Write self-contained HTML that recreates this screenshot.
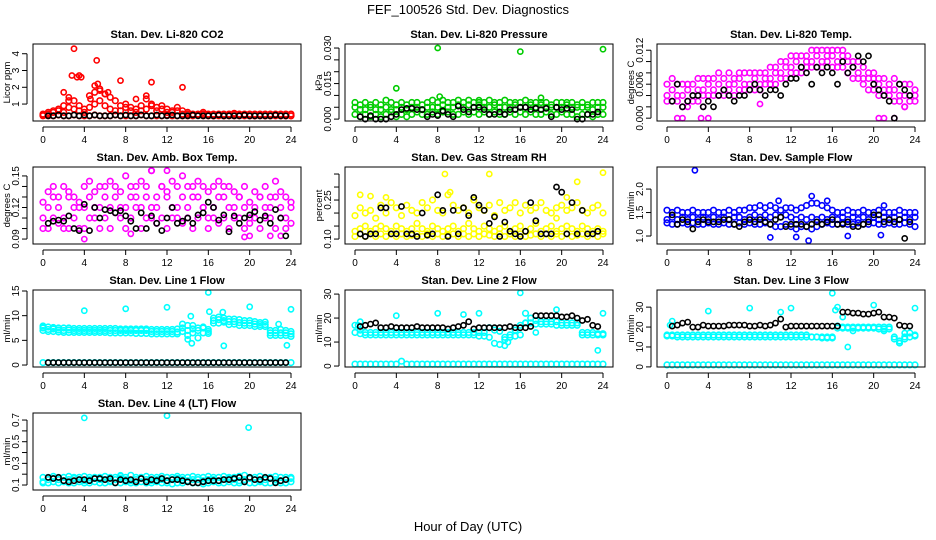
<!DOCTYPE html>
<html><head><meta charset="utf-8">
<style>
html,body{margin:0;padding:0;background:#fff;}
svg{display:block;font-family:"Liberation Sans",sans-serif;}
</style></head>
<body>
<svg id="chart" width="936" height="540" viewBox="0 0 936 540">
<text x="468" y="14" font-size="13" text-anchor="middle">FEF_100526  Std. Dev. Diagnostics</text>
<text x="468" y="531" font-size="13" text-anchor="middle">Hour of Day (UTC)</text>
</svg>
<script>
const H = [0,0.5,1,1.5,2,2.5,3,3.5,4,4.5,5,5.5,6,6.5,7,7.5,8,8.5,9,9.5,10,10.5,11,11.5,12,12.5,13,13.5,14,14.5,15,15.5,16,16.5,17,17.5,18,18.5,19,19.5,20,20.5,21,21.5,22,22.5,23,23.5,24];
const HB = [0.5,1,1.5,2,2.5,3,3.5,4,4.5,5,5.5,6,6.5,7,7.5,8,8.5,9,9.5,10,10.5,11,11.5,12,12.5,13,13.5,14,14.5,15,15.5,16,16.5,17,17.5,18,18.5,19,19.5,20,20.5,21,21.5,22,22.5,23,23.5];
const XTICKS = [0,4,8,12,16,20,24];

// P1 CO2
const co2A = [0.35,0.3,0.3,0.35,0.3,0.3,0.35,0.3,0.3,0.3,0.35,0.3,0.3,0.3,0.35,0.3,0.3,0.3,0.3,0.35,0.3,0.3,0.3,0.3,0.35,0.3,0.3,0.3,0.3,0.3,0.35,0.3,0.3,0.3,0.3,0.3,0.3,0.3,0.35,0.3,0.3,0.3,0.3,0.3,0.3,0.3,0.3,0.3,0.3];
const co2B = [0.4,0.5,0.6,0.7,0.9,0.8,1.2,0.9,0.7,1.5,1.7,1.9,1.6,1.4,1.2,0.9,1.0,0.8,0.7,0.9,1.3,1.0,0.8,0.9,0.7,0.6,0.8,0.6,0.5,0.4,0.4,0.5,0.4,0.4,0.4,0.4,0.4,0.45,0.4,0.4,0.4,0.4,0.4,0.4,0.4,0.4,0.4,0.4,0.4];
const co2C = [0.3,0.4,0.5,0.6,0.5,1.2,0.7,0.6,0.5,0.8,1.0,1.2,0.9,0.7,0.6,0.6,0.8,0.6,0.5,0.6,0.7,0.9,0.6,0.7,0.5,0.5,0.6,0.4,0.4,0.35,0.35,0.4,0.35,0.3,0.35,0.3,0.35,0.4,0.3,0.35,0.3,0.3,0.35,0.3,0.3,0.35,0.3,0.3,0.3];
const co2OutX = [2,2.5,2.8,3,3.3,3.5,3.7,5,5.2,5.3,5.5,6,7.5,9,10,10.5,13.5,6.3,4.6];
const co2OutY = [1.7,1.4,2.7,4.3,2.6,2.7,2.6,2.1,3.6,2.2,1.8,1.6,2.4,1.3,1.5,2.3,2.0,1.7,1.3];
const co2Blk = [0.3,0.3,0.35,0.3,0.3,0.35,0.3,0.35,0.3,0.35,0.3,0.3,0.3,0.35,0.3,0.35,0.3,0.3,0.35,0.3,0.3,0.35,0.3,0.3,0.35,0.3,0.3,0.3,0.35,0.3,0.3,0.3,0.3,0.35,0.3,0.3,0.3,0.3,0.35,0.3,0.3,0.3,0.3,0.3,0.35,0.3,0.3];

// P2 Pressure
const prA = [0.002,0.001,0.002,0.001,0.002,0.001,0.002,0.003,0.001,0.002,0.001,0.002,0.003,0.002,0.002,0.003,0.002,0.003,0.003,0.002,0.002,0.003,0.002,0.003,0.002,0.003,0.002,0.003,0.002,0.002,0.003,0.002,0.003,0.002,0.003,0.002,0.002,0.003,0.002,0.002,0.003,0.002,0.002,0.001,0.002,0.002,0.001,0.002,0.002];
const prB = [0.005,0.004,0.004,0.005,0.004,0.004,0.005,0.004,0.004,0.005,0.004,0.005,0.005,0.004,0.005,0.005,0.005,0.006,0.005,0.005,0.006,0.005,0.006,0.005,0.006,0.005,0.005,0.006,0.005,0.005,0.005,0.006,0.005,0.005,0.006,0.005,0.006,0.005,0.005,0.005,0.005,0.006,0.005,0.005,0.005,0.005,0.004,0.005,0.005];
const prC = [0.007,0.006,0.007,0.006,0.007,0.006,0.008,0.007,0.006,0.007,0.006,0.007,0.007,0.006,0.007,0.008,0.007,0.008,0.007,0.007,0.008,0.007,0.008,0.007,0.007,0.007,0.008,0.007,0.007,0.008,0.007,0.007,0.007,0.008,0.007,0.007,0.007,0.007,0.006,0.007,0.007,0.007,0.007,0.006,0.007,0.006,0.007,0.007,0.007];
const prOutX = [4,8,8.2,16,24,12,18];
const prOutY = [0.013,0.030,0.0095,0.0285,0.0295,0.008,0.009];
const prBlk = [0.001,0.0,0.0015,0.0,0.0,0.0,0.001,0.002,0.004,0.0045,0.0045,0.004,0.004,0.001,0.002,0.0015,0.0035,0.002,0.001,0.0055,0.004,0.003,0.005,0.005,0.004,0.002,0.002,0.003,0.002,0.004,0.004,0.005,0.005,0.004,0.0045,0.004,0.0045,0.001,0.005,0.004,0.0045,0.004,0.0,0.0,0.002,0.002,0.003];

// P3 Li-820 Temp
const ltA = [0.004,0.005,0.004,0.004,0.005,0.004,0.005,0.005,0.006,0.005,0.006,0.005,0.006,0.006,0.007,0.006,0.006,0.007,0.006,0.007,0.007,0.008,0.008,0.009,0.009,0.010,0.009,0.010,0.010,0.011,0.010,0.011,0.011,0.010,0.011,0.010,0.009,0.008,0.007,0.007,0.006,0.006,0.005,0.005,0.005,0.004,0.004,0.004,0.004];
const ltB = [0.006,0.007,0.006,0.006,0.006,0.006,0.007,0.007,0.007,0.007,0.008,0.007,0.008,0.007,0.008,0.008,0.008,0.008,0.008,0.008,0.009,0.009,0.010,0.010,0.011,0.011,0.011,0.011,0.012,0.012,0.012,0.012,0.012,0.012,0.012,0.011,0.010,0.010,0.009,0.008,0.008,0.007,0.007,0.006,0.007,0.006,0.006,0.006,0.005];
const ltC = [0.003,0.003,0.003,0.002,0.003,0.003,0.003,0.004,0.004,0.004,0.004,0.004,0.005,0.004,0.005,0.005,0.005,0.005,0.005,0.006,0.006,0.006,0.007,0.007,0.008,0.008,0.008,0.009,0.009,0.009,0.009,0.010,0.009,0.009,0.009,0.008,0.007,0.007,0.006,0.005,0.005,0.004,0.004,0.004,0.003,0.003,0.002,0.003,0.003];
const ltOutX = [1,1.5,3.3,4,20.5,21,22,2,3.5,9,20,23];
const ltOutY = [0,0,0,0,0,0,0,0.002,0.002,0.0025,0.007,0.002];
const ltBlk = [0.003,0.006,0.002,0.003,0.004,0.004,0.002,0.003,0.002,0.004,0.005,0.004,0.003,0.004,0.004,0.005,0.006,0.005,0.004,0.005,0.005,0.004,0.006,0.007,0.007,0.009,0.008,0.006,0.009,0.008,0.009,0.008,0.006,0.010,0.008,0.009,0.011,0.010,0.011,0.006,0.005,0.004,0.003,0.0,0.006,0.005,0.004];

// P4 Amb Box Temp
const abA = [0.11,0.12,0.13,0.12,0.11,0.13,0.12,0.10,0.12,0.13,0.11,0.12,0.14,0.12,0.13,0.11,0.12,0.13,0.14,0.12,0.13,0.11,0.12,0.14,0.13,0.12,0.11,0.13,0.12,0.14,0.13,0.12,0.11,0.12,0.13,0.14,0.12,0.11,0.13,0.12,0.11,0.12,0.13,0.12,0.11,0.13,0.12,0.11,0.12];
const abB = [0.10,0.10,0.11,0.105,0.10,0.10,0.11,0.12,0.10,0.11,0.12,0.10,0.11,0.10,0.115,0.12,0.10,0.11,0.12,0.10,0.11,0.12,0.105,0.11,0.10,0.11,0.12,0.105,0.11,0.10,0.11,0.12,0.10,0.11,0.105,0.11,0.10,0.12,0.11,0.10,0.105,0.11,0.10,0.11,0.12,0.10,0.11,0.10,0.105];
const abC = [0.125,0.135,0.14,0.13,0.14,0.135,0.13,0.125,0.14,0.145,0.135,0.14,0.13,0.145,0.14,0.135,0.15,0.14,0.13,0.145,0.14,0.155,0.13,0.14,0.135,0.145,0.14,0.15,0.14,0.13,0.145,0.14,0.135,0.14,0.145,0.13,0.14,0.135,0.13,0.14,0.125,0.135,0.13,0.14,0.13,0.145,0.135,0.13,0.125];
const abOutX = [4,8.5,10.5,12,19.5,20,22,23];
const abOutY = [0.09,0.095,0.155,0.155,0.092,0.093,0.093,0.093];
const abBlk = [0.105,0.107,0.108,0.107,0.112,0.10,0.098,0.123,0.098,0.12,0.11,0.118,0.117,0.115,0.117,0.112,0.107,0.10,0.115,0.1,0.112,0.105,0.098,0.11,0.12,0.105,0.107,0.11,0.105,0.113,0.115,0.125,0.12,0.108,0.113,0.097,0.112,0.105,0.11,0.113,0.116,0.108,0.112,0.105,0.118,0.11,0.093];

// P5 Gas Stream RH
const rhA = [0.11,0.12,0.11,0.12,0.11,0.12,0.11,0.12,0.11,0.12,0.11,0.115,0.12,0.11,0.12,0.11,0.12,0.11,0.115,0.12,0.11,0.12,0.11,0.12,0.11,0.12,0.115,0.11,0.12,0.11,0.12,0.11,0.12,0.11,0.115,0.12,0.11,0.12,0.11,0.12,0.11,0.12,0.11,0.115,0.12,0.11,0.12,0.11,0.12];
const rhB = [0.13,0.14,0.15,0.13,0.14,0.15,0.14,0.13,0.15,0.14,0.13,0.14,0.16,0.14,0.13,0.15,0.14,0.13,0.14,0.15,0.13,0.14,0.16,0.14,0.13,0.15,0.14,0.13,0.14,0.15,0.13,0.14,0.15,0.13,0.14,0.16,0.13,0.14,0.15,0.13,0.14,0.15,0.14,0.13,0.15,0.14,0.13,0.14,0.13];
const rhC = [0.19,0.22,0.20,0.21,0.18,0.23,0.20,0.24,0.22,0.19,0.23,0.21,0.20,0.24,0.22,0.25,0.21,0.20,0.27,0.23,0.21,0.22,0.20,0.25,0.22,0.21,0.23,0.19,0.24,0.21,0.22,0.24,0.20,0.23,0.21,0.22,0.24,0.21,0.20,0.22,0.23,0.21,0.22,0.24,0.21,0.20,0.22,0.23,0.20];
const rhOutX = [0.5,1.5,8.7,9.2,13,21.5,24,20.5,19.5,3];
const rhOutY = [0.27,0.265,0.35,0.28,0.35,0.32,0.355,0.26,0.18,0.26];
const rhBlk = [0.12,0.11,0.12,0.12,0.22,0.22,0.12,0.12,0.225,0.12,0.12,0.11,0.20,0.115,0.12,0.27,0.21,0.11,0.21,0.12,0.22,0.19,0.26,0.23,0.21,0.16,0.185,0.11,0.165,0.13,0.12,0.11,0.13,0.24,0.17,0.12,0.12,0.12,0.30,0.28,0.12,0.24,0.12,0.21,0.12,0.12,0.13];

// P6 Sample Flow
const sfA = [1.35,1.40,1.35,1.40,1.35,1.40,1.35,1.40,1.35,1.40,1.35,1.40,1.35,1.40,1.40,1.35,1.40,1.45,1.40,1.45,1.40,1.45,1.40,1.45,1.40,1.35,1.40,1.35,1.40,1.35,1.40,1.35,1.40,1.35,1.40,1.35,1.40,1.35,1.40,1.35,1.40,1.35,1.40,1.35,1.40,1.35,1.40,1.35,1.40];
const sfB = [1.55,1.5,1.55,1.5,1.5,1.55,1.5,1.5,1.5,1.55,1.5,1.5,1.55,1.5,1.55,1.55,1.6,1.6,1.65,1.6,1.65,1.6,1.55,1.6,1.6,1.55,1.6,1.65,1.7,1.7,1.65,1.6,1.55,1.5,1.5,1.55,1.5,1.5,1.55,1.5,1.5,1.55,1.5,1.5,1.5,1.55,1.5,1.5,1.5];
const sfC = [1.28,1.25,1.25,1.28,1.25,1.28,1.25,1.25,1.28,1.25,1.25,1.28,1.25,1.25,1.28,1.25,1.28,1.25,1.25,1.28,1.25,1.2,1.2,1.25,1.2,1.15,1.2,1.2,1.15,1.2,1.25,1.28,1.25,1.25,1.28,1.25,1.25,1.28,1.25,1.25,1.28,1.25,1.25,1.28,1.25,1.25,1.28,1.25,1.2];
const sfOutX = [2.7,10,12.5,13.7,14,17.5,20.7,21,10.8,15.5];
const sfOutY = [2.4,0.97,0.98,0.9,1.85,1.0,1.02,1.65,1.75,1.75];
const sfBlk = [1.45,1.25,1.35,1.3,1.15,1.3,1.35,1.3,1.3,1.3,1.35,1.35,1.25,1.2,1.3,1.35,1.3,1.35,1.3,1.25,1.35,1.4,1.2,1.25,1.25,1.25,1.2,1.25,1.3,1.25,1.3,1.35,1.25,1.25,1.3,1.2,1.2,1.25,1.3,1.45,1.45,1.3,1.35,1.3,1.35,0.95,1.3];

// P7 Line 1 Flow
const l1A = [7.5,7.2,7.3,7.1,7.0,7.1,7.0,7.0,7.0,7.0,7.0,7.0,7.0,7.0,7.0,7.0,7.0,7.0,7.0,7.0,7.0,6.8,6.8,6.8,6.8,6.8,6.7,6.8,7.0,6.5,7.0,6.5,6.8,9.0,9.2,9.0,8.8,8.8,8.6,8.5,8.5,8.3,8.2,8.2,6.5,6.5,6.5,6.5,6.3];
const l1B = [7.0,6.8,6.8,6.7,6.6,6.6,6.6,6.6,6.6,6.6,6.6,6.6,6.6,6.5,6.5,6.5,6.5,6.5,6.4,6.4,6.4,6.3,6.3,6.3,6.3,6.3,6.3,7.5,6.0,7.3,5.5,7.5,6.4,8.5,8.5,8.7,8.2,8.3,8.0,8.0,8.0,7.8,7.8,7.8,6.0,6.0,6.0,6.0,5.8];
const l1C = [7.9,7.7,7.6,7.5,7.5,7.5,7.4,7.4,7.4,7.4,7.4,7.4,7.4,7.4,7.4,7.3,7.3,7.3,7.3,7.3,7.3,7.2,7.2,7.2,7.2,7.2,7.3,8.3,8.0,8.0,7.5,7.7,7.2,9.5,9.7,9.5,9.3,9.3,9.2,9.0,9.0,8.8,8.6,8.7,7.0,7.0,7.2,7.0,6.8];
const l1Low = [0.5,0.5,0.5,0.5,0.5,0.5,0.5,0.5,0.5,0.5,0.5,0.5,0.5,0.5,0.5,0.5,0.5,0.5,0.5,0.5,0.5,0.5,0.5,0.5,0.5,0.5,0.5,0.5,0.5,0.5,0.5,0.5,0.5,0.5,0.5,0.5,0.5,0.5,0.5,0.5,0.5,0.5,0.5,0.5,0.5,0.5,0.5,0.5,0.5];
const l1OutX = [0,4,8,12,14,14.4,14.3,16,16.1,17.4,17.5,20,23.6,24,22.8];
const l1OutY = [7.8,11,11.4,11.7,5.2,4.4,9.9,14.7,10.8,10.7,3.9,11.8,4,11.3,8.3];
const l1Blk = [0.5,0.5,0.5,0.5,0.5,0.5,0.5,0.5,0.5,0.5,0.5,0.5,0.5,0.5,0.5,0.5,0.5,0.5,0.5,0.5,0.5,0.5,0.5,0.5,0.5,0.5,0.5,0.5,0.5,0.5,0.5,0.5,0.5,0.5,0.5,0.5,0.5,0.5,0.5,0.5,0.5,0.5,0.5,0.5,0.5,0.5,0.5];

// P8 Line 2 Flow
const l2A = [14,13.5,13,13,13,13,13,13,13,13,13,13,13,13,13,13,13,13,13,13,13,13,13,13,12.5,12.5,12,9.5,9,11,12,12.5,13,18,18,17.5,17.5,17.5,17.5,17,17,17,17,17,13,13,13,13,13];
const l2B = [17,15,14,14,14,14,14,14,14,14,14,14,14,14,14,14,14,14,14,14,14,14,14,14,14,14,16,15,14.5,12,13,15,17,22,20,19,18.5,18.5,18.5,18.5,18,18,18,18,14,14,14,13.5,13.5];
const l2Low = [0.8,0.8,0.8,0.8,0.8,0.8,0.8,0.8,0.8,2,0.8,0.8,0.8,0.8,0.8,0.8,0.8,0.8,0.8,0.8,0.8,0.8,0.8,0.8,0.8,0.8,0.8,0.8,0.8,0.8,0.8,0.8,0.8,0.8,0.8,0.8,0.8,0.8,0.8,0.8,0.8,0.8,0.8,0.8,0.8,0.8,0.8,0.8,0.8];
const l2OutX = [0.3,0.5,4,8,10.5,12,14.5,16,17.5,19.5,23.5,24,14.8,16.5];
const l2OutY = [17,18.5,21,22,21.5,22,8.5,30.5,14,23.5,6.5,22,10,18];
const l2Blk = [16.5,17,17.5,18,16,16,16.5,16,16,16,16,16.5,16,16,16,16,16,15.5,16,16.5,17,18.5,15.5,16,16,16,16,16,16,16.5,16,16,16,16.5,21,21,21,21,21,20.5,20.5,21,20,19,19.5,17,16.5];

// P9 Line 3 Flow
const l3A = [15.5,15.5,15,15,15,15,15,15,15,15,15,15,15,15,15,15,15,15,15,15,15,15,15,15,15,15,15,15,15,15,14.5,14.5,14.5,19.5,19.5,19.5,19.5,19.5,19.5,19.5,19.5,19,19,19,14,13,14,15,15.5];
const l3B = [16,16,16,16,16,16,16,16,16,16,16,16,16,16,16,16,16,16,16,16,16,16,16,16,16,16,16,16,15,15,15,15,15,20.5,20,20,20,20,20,20,20,20,20,20,15,12,15,17,16];
const l3Low = [1,1,1,1,1,1,1,1,1,1,1,1,1,1,1,1,1,1,1,1,1,1,1,1,1,1,1,1,1,1,1,1,1,1,1,1,1,1,1,1,1,1,1,1,1,1,1,1,1];
const l3OutX = [0.3,0.5,4,8,11,12,16,16.3,16.5,17,17.5,20,24,23,22.5,21,18];
const l3OutY = [21,23,28,29.5,27.5,29.5,37,28.5,30,25,10,31,29.5,17,12,18,18];
const l3Blk = [20.5,21,22,22.5,20,20,21,20.5,20.5,20.5,20.5,21,21,21,21,20.5,20.5,21,20.5,21,22,24,20,20.5,20.5,20.5,20.5,20.5,20.5,20.5,20.5,20.5,20.5,27.5,27.5,27,27,26.5,26.5,27,27.5,25,25,24.5,21,20.5,20.5];

// P10 Line 4 (LT) Flow
const l4A = [0.13,0.15,0.16,0.15,0.14,0.15,0.16,0.15,0.14,0.15,0.16,0.15,0.15,0.14,0.15,0.16,0.15,0.14,0.15,0.16,0.15,0.14,0.15,0.15,0.14,0.15,0.16,0.15,0.14,0.15,0.15,0.14,0.15,0.15,0.14,0.15,0.16,0.15,0.14,0.15,0.16,0.15,0.14,0.15,0.16,0.15,0.14,0.15,0.16];
const l4B = [0.12,0.12,0.13,0.12,0.13,0.12,0.12,0.13,0.12,0.12,0.13,0.12,0.12,0.13,0.12,0.12,0.13,0.12,0.12,0.13,0.12,0.12,0.13,0.12,0.12,0.11,0.12,0.12,0.13,0.12,0.12,0.11,0.12,0.13,0.12,0.12,0.13,0.12,0.12,0.13,0.12,0.12,0.13,0.12,0.12,0.13,0.12,0.12,0.13];
const l4C = [0.17,0.17,0.18,0.17,0.17,0.18,0.17,0.17,0.18,0.17,0.17,0.17,0.18,0.17,0.17,0.18,0.17,0.19,0.17,0.17,0.18,0.17,0.17,0.18,0.17,0.17,0.18,0.17,0.17,0.18,0.17,0.17,0.18,0.17,0.17,0.18,0.17,0.17,0.18,0.19,0.17,0.17,0.18,0.17,0.17,0.18,0.17,0.17,0.17];
const l4OutX = [4,12,19.9,7.5];
const l4OutY = [0.72,0.74,0.63,0.19];
const l4Blk = [0.17,0.16,0.17,0.14,0.13,0.14,0.15,0.15,0.14,0.16,0.16,0.15,0.16,0.12,0.15,0.14,0.15,0.13,0.16,0.13,0.15,0.14,0.16,0.14,0.15,0.15,0.14,0.13,0.12,0.12,0.13,0.14,0.14,0.14,0.15,0.15,0.16,0.17,0.13,0.17,0.15,0.15,0.17,0.16,0.12,0.14,0.15];

// y tick values and labels per panel
const yt1 = [1,2,3,4], yl1 = ["1","2","3","4"];
const yt2 = [0,0.005,0.01,0.015,0.02,0.025,0.03], yl2 = ["0.000","","","0.015","","","0.030"];
const yt3 = [0,0.002,0.004,0.006,0.008,0.01,0.012], yl3 = ["0.000","","","0.006","","","0.012"];
const yt4 = [0.09,0.10,0.11,0.12,0.13,0.14,0.15], yl4 = ["0.09","","","0.12","","","0.15"];
const yt5 = [0.10,0.15,0.20,0.25,0.30,0.35], yl5 = ["0.10","","","0.25","",""];
const yt6 = [1.0,1.5,2.0], yl6 = ["1.0","1.5","2.0"];
const yt7 = [0,5,10,15], yl7 = ["0","5","10","15"];
const yt8 = [0,10,20,30], yl8 = ["0","10","20","30"];
const yt9 = [0,10,20,30], yl9 = ["0","10","20","30"];
const yt10 = [0.1,0.2,0.3,0.4,0.5,0.6,0.7], yl10 = ["0.1","","0.3","","0.5","","0.7"];

const panels = [
 {name:"co2",title:"Stan. Dev. Li-820 CO2",ylab:"Licor ppm",col:0,row:0,dom:[-0.01,4.58],color:"#ff0000",series:[co2A,co2B,co2C],outX:co2OutX,outY:co2OutY,blk:co2Blk,yt:yt1,yl:yl1},
 {name:"pressure",title:"Stan. Dev. Li-820 Pressure",ylab:"kPa",col:1,row:0,dom:[-0.0008,0.0317],color:"#00cc00",series:[prA,prB,prC],outX:prOutX,outY:prOutY,blk:prBlk,yt:yt2,yl:yl2},
 {name:"li820-temp",title:"Stan. Dev. Li-820 Temp.",ylab:"degrees C",col:2,row:0,dom:[-0.0005,0.0131],color:"#ff00ff",series:[ltA,ltB,ltC],outX:ltOutX,outY:ltOutY,blk:ltBlk,yt:yt3,yl:yl3},
 {name:"amb-box-temp",title:"Stan. Dev. Amb. Box Temp.",ylab:"degrees C",col:0,row:1,dom:[0.0853,0.1585],color:"#ff00ff",series:[abA,abB,abC],outX:abOutX,outY:abOutY,blk:abBlk,yt:yt4,yl:yl4},
 {name:"gas-rh",title:"Stan. Dev. Gas Stream RH",ylab:"percent",col:1,row:1,dom:[0.081,0.377],color:"#ffff00",series:[rhA,rhB,rhC],outX:rhOutX,outY:rhOutY,blk:rhBlk,yt:yt5,yl:yl5},
 {name:"sample-flow",title:"Stan. Dev. Sample Flow",ylab:"ml/min",col:2,row:1,dom:[0.83,2.47],color:"#0000ff",series:[sfA,sfB,sfC],outX:sfOutX,outY:sfOutY,blk:sfBlk,yt:yt6,yl:yl6},
 {name:"line1-flow",title:"Stan. Dev. Line 1 Flow",ylab:"ml/min",col:0,row:2,dom:[-0.4,15.2],color:"#00ffff",series:[l1A,l1B,l1C,l1Low],outX:l1OutX,outY:l1OutY,blk:l1Blk,yt:yt7,yl:yl7},
 {name:"line2-flow",title:"Stan. Dev. Line 2 Flow",ylab:"ml/min",col:1,row:2,dom:[-0.4,31.7],color:"#00ffff",series:[l2A,l2B,l2Low],outX:l2OutX,outY:l2OutY,blk:l2Blk,yt:yt8,yl:yl8},
 {name:"line3-flow",title:"Stan. Dev. Line 3 Flow",ylab:"ml/min",col:2,row:2,dom:[-0.05,38.6],color:"#00ffff",series:[l3A,l3B,l3Low],outX:l3OutX,outY:l3OutY,blk:l3Blk,yt:yt9,yl:yl9},
 {name:"line4-flow",title:"Stan. Dev. Line 4 (LT) Flow",ylab:"ml/min",col:0,row:3,dom:[0.054,0.765],color:"#00ffff",series:[l4A,l4B,l4C],outX:l4OutX,outY:l4OutY,blk:l4Blk,yt:yt10,yl:yl10}
];

const NS = "http://www.w3.org/2000/svg";
const svg = document.getElementById("chart");
function mk(tag, attrs, parent){
  const e = document.createElementNS(NS, tag);
  for (const k in attrs) e.setAttribute(k, attrs[k]);
  parent.appendChild(e);
  return e;
}

panels.forEach(p => {
  const x0 = 43 + 312*p.col, xw = 248;
  const top = 44 + 123*p.row, bot = 121 + 123*p.row;
  const xs = h => x0 + h/24*xw;
  const ys = v => bot - (v - p.dom[0])/(p.dom[1]-p.dom[0])*(bot-top);
  const g = mk("g", {}, svg);
  
  

  const t = mk("text", {x:x0+xw/2, y:top-6, "font-size":"11", "font-weight":"bold", "text-anchor":"middle"}, g);
  t.textContent = p.title;
  
  

  const yl = mk("text", {x:0, y:0, "font-size":"9.5", "text-anchor":"middle", transform:`translate(${x0-33},${(top+bot)/2}) rotate(-90)`}, g);
  yl.textContent = p.ylab;
  
  

  const marks = mk("g", {fill:"none", "stroke-width":"1.6"}, g);
  
  
  p.series.forEach(arr => {
    arr.forEach((v,i) => {
      const c = mk("circle", {cx:xs(H[i]).toFixed(1), cy:ys(v).toFixed(1), r:"2.8", stroke:p.color}, marks);
      
      
    });
  });
  p.outX.forEach((h,i) => {
    const c = mk("circle", {cx:xs(h).toFixed(1), cy:ys(p.outY[i]).toFixed(1), r:"2.6", stroke:p.color}, marks);
    
    
  });
  p.blk.forEach((v,i) => {
    const c = mk("circle", {cx:xs(HB[i]).toFixed(1), cy:ys(v).toFixed(1), r:"2.6", stroke:"#000"}, marks);
    
    
  });

  const box = mk("rect", {x:x0-10, y:top, width:xw+20, height:bot-top, fill:"none", stroke:"#000", "stroke-width":"1"}, g);
  
  

  const xa = mk("g", {}, g);
  
  
  mk("line", {x1:xs(0), x2:xs(24), y1:bot+6, y2:bot+6, stroke:"#000"}, xa);
  XTICKS.forEach(h => {
    mk("line", {x1:xs(h), x2:xs(h), y1:bot+6, y2:bot+11, stroke:"#000"}, xa);
    const tl = mk("text", {x:xs(h), y:bot+22, "font-size":"10", "text-anchor":"middle"}, xa);
    tl.textContent = String(h);
    
    
  });

  const ya = mk("g", {}, g);
  
  
  const ax = x0-10;
  mk("line", {x1:ax-6, x2:ax-6, y1:ys(p.yt[0]), y2:ys(p.yt[p.yt.length-1]), stroke:"#000"}, ya);
  p.yt.forEach((v,i) => {
    const y = ys(v);
    mk("line", {x1:ax-11, x2:ax-6, y1:y, y2:y, stroke:"#000"}, ya);
    if (p.yl[i]) {
      const tl = mk("text", {x:0, y:0, "font-size":"10", "text-anchor":"middle", transform:`translate(${ax-14},${y}) rotate(-90)`}, ya);
      tl.textContent = p.yl[i];
      
      
    }
  });
});
</script>
</body></html>
